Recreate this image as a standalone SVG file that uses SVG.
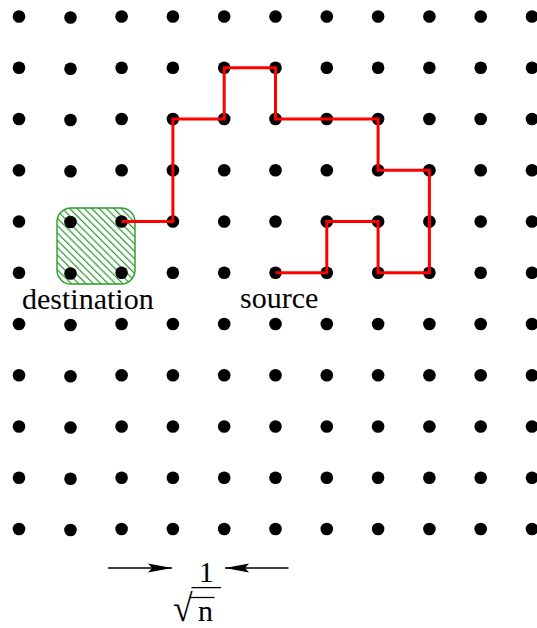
<svg xmlns="http://www.w3.org/2000/svg" width="537" height="628" viewBox="0 0 537 628">
  <style>
    .dot { fill: #000; }
    .label { font-family: "Liberation Serif", "Times New Roman", serif; font-size: 30px; fill: #000; }
    .route { fill: none; stroke: #ff0000; stroke-width: 3; stroke-linejoin: miter; }
    .region { fill: url(#hatch); stroke: #2a9d2a; stroke-width: 1.4; }
    .dim { stroke: #000; stroke-width: 1.3; fill: none; }
  </style>
  <defs>
    <pattern id="hatch" patternUnits="userSpaceOnUse" width="5.2" height="5.2" patternTransform="rotate(-45)">
      <rect width="5.2" height="5.2" fill="#fff"/>
      <line x1="0.6" y1="0" x2="0.6" y2="5.2" stroke="#2a9d2a" stroke-width="1.2"/>
    </pattern>
    <marker id="head" markerUnits="userSpaceOnUse" markerWidth="26" markerHeight="12" refX="24" refY="5" orient="auto">
      <path d="M24,5 L0,0.5 L4,5 L0,9.5 Z" fill="#000"/>
    </marker>
    <circle id="d" r="6.3" class="dot"/>
  </defs>

  <!-- destination region (hatched) -->
  <g id="destination">
    <rect class="region" x="57" y="208" width="78" height="76" rx="14" ry="14"/>
  </g>

  <!-- grid of nodes: 11 x 11, pitch ~51.3 -->
  <g id="grid">
    <g id="col0">
      <use href="#d" x="19" y="16.5"/><use href="#d" x="19" y="67.75"/><use href="#d" x="19" y="119"/><use href="#d" x="19" y="170.25"/><use href="#d" x="19" y="221.5"/><use href="#d" x="19" y="272.75"/><use href="#d" x="19" y="324"/><use href="#d" x="19" y="375.25"/><use href="#d" x="19" y="426.5"/><use href="#d" x="19" y="477.75"/><use href="#d" x="19" y="529"/>
    </g>
    <g id="col1">
      <use href="#d" x="70.5" y="17.5"/><use href="#d" x="70.5" y="68.75"/><use href="#d" x="70.5" y="120"/><use href="#d" x="70.5" y="171.25"/><use href="#d" x="70.5" y="222"/><use href="#d" x="70.5" y="273.5"/><use href="#d" x="70.5" y="325"/><use href="#d" x="70.5" y="376.25"/><use href="#d" x="70.5" y="427.5"/><use href="#d" x="70.5" y="478.75"/><use href="#d" x="70.5" y="530"/>
    </g>
    <g id="col2">
      <use href="#d" x="121.6" y="16.5"/><use href="#d" x="121.6" y="67.75"/><use href="#d" x="121.6" y="119"/><use href="#d" x="121.6" y="170.25"/><use href="#d" x="121.6" y="221.5"/><use href="#d" x="121.6" y="272.75"/><use href="#d" x="121.6" y="324"/><use href="#d" x="121.6" y="375.25"/><use href="#d" x="121.6" y="426.5"/><use href="#d" x="121.6" y="477.75"/><use href="#d" x="121.6" y="529"/>
    </g>
    <g id="col3">
      <use href="#d" x="172.9" y="16.5"/><use href="#d" x="172.9" y="67.75"/><use href="#d" x="172.9" y="119"/><use href="#d" x="172.9" y="170.25"/><use href="#d" x="172.9" y="221.5"/><use href="#d" x="172.9" y="272.75"/><use href="#d" x="172.9" y="324"/><use href="#d" x="172.9" y="375.25"/><use href="#d" x="172.9" y="426.5"/><use href="#d" x="172.9" y="477.75"/><use href="#d" x="172.9" y="529"/>
    </g>
    <g id="col4">
      <use href="#d" x="224.2" y="16.5"/><use href="#d" x="224.2" y="67.75"/><use href="#d" x="224.2" y="119"/><use href="#d" x="224.2" y="170.25"/><use href="#d" x="224.2" y="221.5"/><use href="#d" x="224.2" y="272.75"/><use href="#d" x="224.2" y="324"/><use href="#d" x="224.2" y="375.25"/><use href="#d" x="224.2" y="426.5"/><use href="#d" x="224.2" y="477.75"/><use href="#d" x="224.2" y="529"/>
    </g>
    <g id="col5">
      <use href="#d" x="275.5" y="16.5"/><use href="#d" x="275.5" y="67.75"/><use href="#d" x="275.5" y="119"/><use href="#d" x="275.5" y="170.25"/><use href="#d" x="275.5" y="221.5"/><use href="#d" x="275.5" y="272.75"/><use href="#d" x="275.5" y="324"/><use href="#d" x="275.5" y="375.25"/><use href="#d" x="275.5" y="426.5"/><use href="#d" x="275.5" y="477.75"/><use href="#d" x="275.5" y="529"/>
    </g>
    <g id="col6">
      <use href="#d" x="326.8" y="16.5"/><use href="#d" x="326.8" y="67.75"/><use href="#d" x="326.8" y="119"/><use href="#d" x="326.8" y="170.25"/><use href="#d" x="326.8" y="221.5"/><use href="#d" x="326.8" y="272.75"/><use href="#d" x="326.8" y="324"/><use href="#d" x="326.8" y="375.25"/><use href="#d" x="326.8" y="426.5"/><use href="#d" x="326.8" y="477.75"/><use href="#d" x="326.8" y="529"/>
    </g>
    <g id="col7">
      <use href="#d" x="378.1" y="16.5"/><use href="#d" x="378.1" y="67.75"/><use href="#d" x="378.1" y="119"/><use href="#d" x="378.1" y="170.25"/><use href="#d" x="378.1" y="221.5"/><use href="#d" x="378.1" y="272.75"/><use href="#d" x="378.1" y="324"/><use href="#d" x="378.1" y="375.25"/><use href="#d" x="378.1" y="426.5"/><use href="#d" x="378.1" y="477.75"/><use href="#d" x="378.1" y="529"/>
    </g>
    <g id="col8">
      <use href="#d" x="429.4" y="16.5"/><use href="#d" x="429.4" y="67.75"/><use href="#d" x="429.4" y="119"/><use href="#d" x="429.4" y="170.25"/><use href="#d" x="429.4" y="221.5"/><use href="#d" x="429.4" y="272.75"/><use href="#d" x="429.4" y="324"/><use href="#d" x="429.4" y="375.25"/><use href="#d" x="429.4" y="426.5"/><use href="#d" x="429.4" y="477.75"/><use href="#d" x="429.4" y="529"/>
    </g>
    <g id="col9">
      <use href="#d" x="480.7" y="16.5"/><use href="#d" x="480.7" y="67.75"/><use href="#d" x="480.7" y="119"/><use href="#d" x="480.7" y="170.25"/><use href="#d" x="480.7" y="221.5"/><use href="#d" x="480.7" y="272.75"/><use href="#d" x="480.7" y="324"/><use href="#d" x="480.7" y="375.25"/><use href="#d" x="480.7" y="426.5"/><use href="#d" x="480.7" y="477.75"/><use href="#d" x="480.7" y="529"/>
    </g>
    <g id="col10">
      <use href="#d" x="532" y="16.5"/><use href="#d" x="532" y="67.75"/><use href="#d" x="532" y="119"/><use href="#d" x="532" y="170.25"/><use href="#d" x="532" y="221.5"/><use href="#d" x="532" y="272.75"/><use href="#d" x="532" y="324"/><use href="#d" x="532" y="375.25"/><use href="#d" x="532" y="426.5"/><use href="#d" x="532" y="477.75"/><use href="#d" x="532" y="529"/>
    </g>
  </g>

  <!-- routed path from source to destination -->
  <g id="connectors">
    <path class="route" d="M275.5,272.75 H326.8 V221.5 H378.1 V272.75 H429.4 V170.25 H378.1 V119 H275.5 V67.75 H224.2 V119 H172.9 V221.5 H121.6"/>
  </g>

  <!-- labels -->
  <g id="labels">
    <text class="label" x="22" y="309" font-size="30.5">destination</text>
    <text class="label" x="240" y="308">source</text>
  </g>

  <!-- grid pitch dimension: 1/sqrt(n) -->
  <g id="pitch">
    <line class="dim" x1="108" y1="568" x2="172" y2="568" marker-end="url(#head)"/>
    <line class="dim" x1="288.5" y1="568" x2="225" y2="568" marker-end="url(#head)"/>
    <text class="label" x="206.3" y="582" text-anchor="middle">1</text>
    <line x1="191.5" y1="587.6" x2="221" y2="587.6" stroke="#000" stroke-width="1.3"/>
    <text class="label" x="0" y="0" style="font-size:34px" transform="translate(173,621) scale(1.05,1.12)">√</text>
    <line x1="190" y1="597.5" x2="214.5" y2="597.5" stroke="#000" stroke-width="1.3"/>
    <text class="label" x="198" y="621">n</text>
  </g>
</svg>
